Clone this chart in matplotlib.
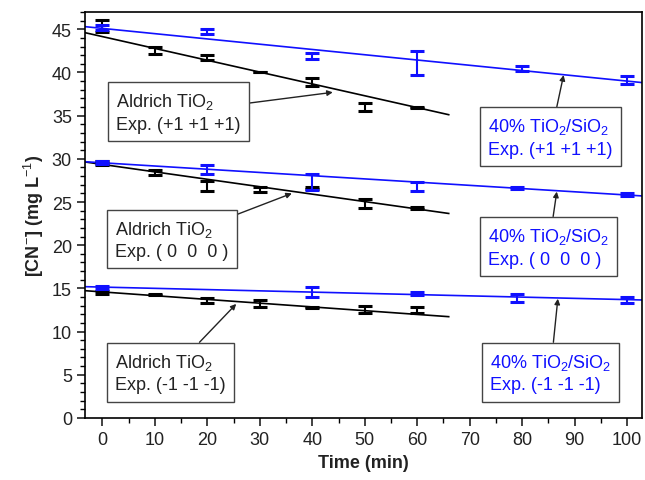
import numpy as np
import matplotlib
matplotlib.use("Agg")
import matplotlib.pyplot as plt
from matplotlib.ticker import MultipleLocator

plt.rcParams['font.family'] = ['Liberation Sans', 'DejaVu Sans']
plt.rcParams['mathtext.fontset'] = 'custom'
plt.rcParams['mathtext.rm'] = 'Liberation Sans'
plt.rcParams['mathtext.it'] = 'Liberation Sans:italic'
plt.rcParams['mathtext.bf'] = 'Liberation Sans:bold'

# ---- data ----
t_ald = [0, 10, 20, 30, 40, 50, 60]
ald_p1 = [45.4, 42.5, 41.7, 40.05, 38.9, 36.0, 35.9]
ald_p1_err = [0.7, 0.4, 0.3, 0.05, 0.5, 0.5, 0.05]
ald_0 = [29.5, 28.4, 26.85, 26.45, 26.6, 24.8, 24.3]
ald_0_err = [0.2, 0.3, 0.55, 0.25, 0.15, 0.55, 0.1]
ald_m1 = [14.55, 14.3, 13.6, 13.2, 12.8, 12.6, 12.45]
ald_m1_err = [0.15, 0.1, 0.28, 0.4, 0.1, 0.4, 0.35]

t_tis = [0, 20, 40, 60, 80, 100]
tis_p1 = [45.2, 44.7, 41.9, 41.1, 40.5, 39.15]
tis_p1_err = [0.25, 0.3, 0.4, 1.4, 0.3, 0.45]
t_tis0 = [0, 20, 40, 60, 79, 100]
tis_0 = [29.6, 28.8, 27.3, 26.8, 26.6, 25.9]
tis_0_err = [0.2, 0.5, 0.9, 0.5, 0.1, 0.15]
t_tism1 = [0, 40, 60, 79, 100]
tis_m1 = [15.1, 14.6, 14.4, 13.9, 13.65]
tis_m1_err = [0.15, 0.6, 0.2, 0.42, 0.37]

# fitted lines: (intercept, slope, t_start, t_end)
fit_ald_p1 = (44.15, -0.137, -3.3, 66)
fit_ald_0 = (29.35, -0.086, -3.3, 66)
fit_ald_m1 = (14.59, -0.0434, -3.3, 66)
fit_tis_p1 = (45.1, -0.061, -3.3, 102.8)
fit_tis_0 = (29.54, -0.0373, -3.3, 102.8)
fit_tis_m1 = (15.15, -0.0145, -3.3, 102.8)

BLUE = '#1010ff'
BLACK = '#000000'
DARK = '#222222'

fig = plt.figure(figsize=(6.45, 4.81), dpi=100)
ax = fig.add_axes([0.132, 0.129, 0.863, 0.844])

def fitline(p, c):
    b, m, t0, t1 = p
    tt = np.array([t0, t1])
    ax.plot(tt, b + m * tt, color=c, lw=1.2, zorder=2)

for p in (fit_ald_p1, fit_ald_0, fit_ald_m1):
    fitline(p, BLACK)
for p in (fit_tis_p1, fit_tis_0, fit_tis_m1):
    fitline(p, BLUE)

def eb(t, y, e, c):
    ax.errorbar(t, y, yerr=e, fmt='none', ecolor=c, elinewidth=1.5,
                capsize=5, capthick=2.2, zorder=3)

eb(t_ald, ald_p1, ald_p1_err, BLACK)
eb(t_ald, ald_0, ald_0_err, BLACK)
eb(t_ald, ald_m1, ald_m1_err, BLACK)
eb(t_tis, tis_p1, tis_p1_err, BLUE)
eb(t_tis0, tis_0, tis_0_err, BLUE)
eb(t_tism1, tis_m1, tis_m1_err, BLUE)

ax.set_xlim(-3.3, 102.8)
ax.set_ylim(0, 47)
ax.xaxis.set_major_locator(MultipleLocator(10))
ax.xaxis.set_minor_locator(MultipleLocator(5))
ax.yaxis.set_major_locator(MultipleLocator(5))
ax.yaxis.set_minor_locator(MultipleLocator(1))
ax.tick_params(axis='both', which='major', direction='out', length=6, width=1.2,
               labelsize=13, colors=DARK)
ax.tick_params(axis='both', which='minor', direction='out', length=3.5, width=1.0)
for s in ax.spines.values():
    s.set_linewidth(1.2)

ax.set_xlabel('Time (min)', fontsize=13, fontweight='bold', color=DARK, labelpad=4)
ax.set_ylabel('[CN$^{-}$] (mg L$^{-1}$)', fontsize=13, fontweight='bold', color=DARK, labelpad=4)

def label_box(txt, color, tx, ty, target):
    ax.annotate(txt, xy=target, xycoords='data',
                xytext=(tx, ty), textcoords='data',
                fontsize=13, color=color, ha='left', va='center',
                linespacing=1.35,
                bbox=dict(boxstyle='square,pad=0.45', fc='white', ec='#444444', lw=1.0),
                arrowprops=dict(arrowstyle='-|>', color=DARK, lw=1.0,
                                mutation_scale=8, shrinkA=0, shrinkB=0),
                zorder=5)

label_box('Aldrich TiO$_2$\nExp. (+1 +1 +1)', DARK, 2.6, 35.4, (43.9, 37.7))
label_box('40% TiO$_2$/SiO$_2$\nExp. (+1 +1 +1)', BLUE, 73.5, 32.5, (87.9, 39.7))
label_box('Aldrich TiO$_2$\nExp. ( 0  0  0 )', DARK, 2.4, 20.66, (36.1, 26.0))
label_box('40% TiO$_2$/SiO$_2$\nExp. ( 0  0  0 )', BLUE, 73.5, 19.8, (86.6, 26.2))
label_box('Aldrich TiO$_2$\nExp. (-1 -1 -1)', DARK, 2.4, 5.24, (25.5, 13.2))
label_box('40% TiO$_2$/SiO$_2$\nExp. (-1 -1 -1)', BLUE, 73.8, 5.24, (86.8, 13.8))

fig.savefig('out.png', dpi=100)
